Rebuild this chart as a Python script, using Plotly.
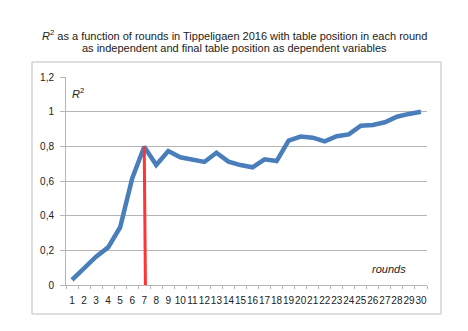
import plotly.graph_objects as go

rounds = list(range(1, 31))
r_squared = [
    0.03, 0.096, 0.163, 0.217, 0.333, 0.615, 0.798, 0.692, 0.773, 0.737,
    0.725, 0.71, 0.763, 0.712, 0.692, 0.679, 0.725, 0.715, 0.833, 0.856,
    0.85, 0.829, 0.858, 0.869, 0.919, 0.923, 0.939, 0.971, 0.987, 1.0,
]
marker_x = [7, 7.1]
marker_y = [0.8, 0]
y_ticks = [0, 0.2, 0.4, 0.6, 0.8, 1.0, 1.2]
y_labels = ["0", "0,2", "0,4", "0,6", "0,8", "1", "1,2"]
boundaries = [r - 0.5 for r in rounds] + [30.5]
title_lines = [
    "<i>R</i><sup>2</sup> as a function of rounds in Tippeligaen 2016 with table position in each round",
    "as independent and final table position as dependent variables",
]

FONT = "Liberation Sans, Arial, sans-serif"
GRID = "#b5b5b5"

# plot area in figure pixels (page body adds an 8px offset)
L, R, T, B = 58, 419, 69, 277
W, H = R - L, B - T


def px(x):
    return (x - L) / W


def py(y):
    return (B - y) / H


fig = go.Figure()
fig.add_trace(go.Scatter(
    x=rounds, y=r_squared, mode="lines",
    line=dict(color="#4a7ebb", width=4.5), hoverinfo="skip",
))
fig.add_trace(go.Scatter(
    x=marker_x, y=marker_y, mode="lines",
    line=dict(color="#ff3535", width=3), hoverinfo="skip",
))
# invisible trace so the tick-mark axis gets drawn
fig.add_trace(go.Scatter(
    x=[0.5], y=[0], xaxis="x2", mode="markers",
    marker=dict(opacity=0), hoverinfo="skip",
))

fig.update_layout(
    width=468, height=331,
    showlegend=False,
    paper_bgcolor="white", plot_bgcolor="white",
    margin=dict(l=L, r=468 - R, t=T, b=331 - B, autoexpand=False),
    font=dict(family=FONT, size=10, color="#222222"),
    xaxis=dict(
        range=[0.5, 30.5], tickvals=rounds, ticktext=[str(r) for r in rounds],
        tickangle=0, automargin=False,
        ticks="", showgrid=False, zeroline=False,
        showline=True, linecolor=GRID, linewidth=1,
        ticklabelstandoff=6,
        tickfont=dict(size=10, color="#222222"),
    ),
    xaxis2=dict(
        range=[0.5, 30.5], overlaying="x", anchor="y", side="bottom",
        automargin=False,
        tickvals=boundaries, ticks="outside", ticklen=3, tickcolor=GRID,
        showticklabels=False, showgrid=False, zeroline=False, showline=False,
    ),
    yaxis=dict(
        range=[0, 1.2], tickvals=y_ticks, ticktext=y_labels, automargin=False,
        ticks="outside", ticklen=5, tickcolor=GRID, ticklabelstandoff=4,
        showgrid=True, gridcolor=GRID, gridwidth=1,
        zeroline=False, showline=True, linecolor=GRID, linewidth=1,
        tickfont=dict(size=10, color="#222222"),
    ),
    shapes=[dict(
        type="rect", xref="paper", yref="paper",
        x0=px(24), x1=px(433), y0=py(306), y1=py(54),
        line=dict(color="#bdbdbd", width=1), fillcolor="rgba(0,0,0,0)",
        layer="below",
    )],
    annotations=[
        dict(text=title_lines[0], xref="paper", yref="paper",
             x=px(226), y=py(27), xanchor="center", yanchor="middle",
             showarrow=False, font=dict(family=FONT, size=11, color="#222222")),
        dict(text=title_lines[1], xref="paper", yref="paper",
             x=px(226), y=py(40), xanchor="center", yanchor="middle",
             showarrow=False, font=dict(family=FONT, size=11, color="#222222")),
        dict(text="<i>R</i><sup>2</sup>", xref="paper", yref="paper",
             x=px(62), y=py(85), xanchor="left", yanchor="middle",
             showarrow=False, font=dict(family=FONT, size=11, color="#222222")),
        dict(text="<i>rounds</i>", xref="paper", yref="paper",
             x=px(400), y=py(261), xanchor="right", yanchor="middle",
             showarrow=False, font=dict(family=FONT, size=11, color="#222222")),
    ],
)

fig.write_html("out.html")
